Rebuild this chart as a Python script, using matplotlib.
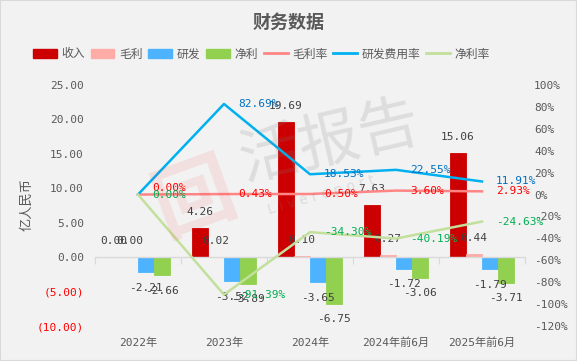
import matplotlib
matplotlib.use('Agg')
import matplotlib.pyplot as plt
import matplotlib.transforms as mtransforms
import numpy as np
from matplotlib.lines import Line2D
from matplotlib.patches import Patch, Rectangle

categories = ['2022年', '2023年', '2024年', '2024年前6月', '2025年前6月']
revenue = [0.00, 4.26, 19.69, 7.63, 15.06]
gross = [0.00, 0.02, 0.10, 0.27, 0.44]
rnd = [-2.21, -3.52, -3.65, -1.72, -1.79]
net = [-2.66, -3.89, -6.75, -3.06, -3.71]
gross_margin = [0.00, 0.43, 0.50, 3.60, 2.93]
rnd_ratio = [0.00, 82.69, 18.53, 22.55, 11.91]
net_margin = [0.00, -91.39, -34.30, -40.19, -24.63]
left_ticks = [-10, -5, 0, 5, 10, 15, 20, 25]
right_ticks = list(range(-120, 101, 20))
bar_names = ['收入', '毛利', '研发', '净利']
line_names = ['毛利率', '研发费用率', '净利率']

FONT = ['DejaVu Sans Mono', 'Noto Sans CJK SC']
plt.rcParams['font.family'] = FONT
GRAY = '#595959'

fig = plt.figure(figsize=(5.77, 3.61), dpi=100, facecolor='#f2f2f2')
ax = fig.add_axes([95/577, 1-326/361, 430/577, 241/361])
ax.set_facecolor('none')
ax.set_xlim(-0.5, 4.5)
ax.set_ylim(-10, 25)
x = np.arange(len(categories))
w = 0.186
bar_colors = ['#cc0000', '#ffaba6', '#4db3ff', '#92d050']
series = [revenue, gross, rnd, net]
offsets = [-1.5, -0.5, 0.5, 1.5]
for s, c, o in zip(series, bar_colors, offsets):
    ax.bar(x + o*w, s, width=w, color=c, edgecolor=c, linewidth=0.6, zorder=2)
for s, o in zip(series, offsets):
    for xi, v in zip(x + o*w, s):
        dy = 11.5 if v >= 0 else -11
        ax.annotate(f'{v:.2f}', (xi, v), xytext=(0, dy), textcoords='offset points',
                    ha='center', va='center', fontsize=8, color='#404040', zorder=5)

for sp in ['top', 'left', 'right']:
    ax.spines[sp].set_visible(False)
ax.spines['bottom'].set_position(('data', 0))
ax.spines['bottom'].set_color('#d9d9d9')
ax.spines['bottom'].set_linewidth(1)
ax.set_xticks(np.arange(-0.5, 5, 1))
ax.tick_params(axis='x', length=5, color='#d9d9d9', labelbottom=False, direction='out')
ax.set_yticks(left_ticks)
ax.set_yticklabels([f'{t:.2f}' if t >= 0 else f'({-t:.2f})' for t in left_ticks])
ax.tick_params(axis='y', length=0, pad=8, labelsize=8)
for lbl, t in zip(ax.get_yticklabels(), left_ticks):
    lbl.set_color('#ff0000' if t < 0 else GRAY)

trans = mtransforms.blended_transform_factory(ax.transData, ax.transAxes)
for i, c in enumerate(categories):
    ax.text(i, -0.0705, c, transform=trans, ha='center', va='center', fontsize=8,
            color=GRAY, clip_on=False)

ax2 = ax.twinx()
ax2.set_ylim(-120, 100)
for sp in ax2.spines.values():
    sp.set_visible(False)
ax2.set_yticks(right_ticks)
ax2.set_yticklabels([f'{t}%' for t in right_ticks])
ax2.tick_params(axis='y', length=0, pad=6.5, labelsize=8, colors=GRAY)

line_colors = ['#ff8585', '#00b0f0', '#c2e09c']
label_colors = ['#ff0000', '#0070c0', '#00b050']
line_series = [gross_margin, rnd_ratio, net_margin]
for s, c in zip(line_series, line_colors):
    ax2.plot(x, s, color=c, linewidth=1.8, zorder=3)
for k, (s, c) in enumerate(zip(line_series, label_colors)):
    for i, v in enumerate(s):
        if k == 1 and i == 0:
            continue
        dy = 4.5 if (k == 0 and i == 0) else 0
        ax2.annotate(f'{v:.2f}%', (i, v), xytext=(10, dy), textcoords='offset points',
                     ha='left', va='center', fontsize=8, color=c, zorder=6)

# title, axis label
fig.text(0.5, 1-22/361, '财务数据', fontsize=13, fontweight='bold', color=GRAY,
         family='Noto Sans CJK SC', ha='center', va='center')
fig.text(27/577, 1-204/361, '亿人民币', rotation=90, fontsize=9.5, color=GRAY,
         family='Noto Sans CJK SC', ha='center', va='center')

handles = [Patch(facecolor=c, edgecolor=c) for c in bar_colors] + \
          [Line2D([0], [0], color=c, linewidth=2) for c in line_colors]
leg = fig.legend(handles, bar_names + line_names, loc='center',
                 bbox_to_anchor=(261.5/577, 1-54/361), ncol=7, frameon=False,
                 fontsize=8.5, handlelength=2.0, handletextpad=0.4, columnspacing=0.5,
                 prop={'family': 'Noto Sans CJK SC', 'size': 8.5})
for t in leg.get_texts():
    t.set_color(GRAY)

# watermark
fig.text(330/577, 1-142/361, '活报告', fontsize=44, color='#808080', alpha=0.18,
         rotation=13, ha='center', va='center', family='Noto Sans CJK SC', zorder=10)
fig.text(321/577, 1-195/361, 'L i v e r e p o r t', fontsize=10, color='#808080',
         alpha=0.2, rotation=16, ha='center', va='center', family='DejaVu Sans', zorder=10)
fig.text(195/577, 1-200/361, '回', fontsize=58, color='#ff0000', alpha=0.08,
         rotation=20, ha='center', va='center', family='Noto Sans CJK SC',
         fontweight='bold', zorder=10)

fig.patches.append(Rectangle((0, 0), 1, 1, transform=fig.transFigure, fill=False,
                             edgecolor='#d9d9d9', linewidth=1.5))

fig.savefig('out.png', dpi=100, facecolor=fig.get_facecolor())
